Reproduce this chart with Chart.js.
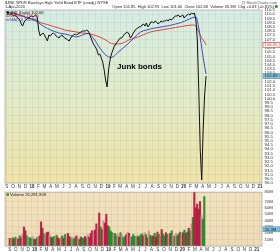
<!DOCTYPE html>
<html>
<head>
<meta charset="utf-8">
<script src="https://cdn.jsdelivr.net/npm/chart.js@4"></script>
<style>
  body { margin: 0; width: 280px; height: 252px; background: #fff; overflow: hidden; position: relative; }
  canvas { position: absolute; left: 0; }
  #price { top: 0; }
  #vol { top: 188px; }
</style>
</head>
<body>
<canvas id="price" width="280" height="188"></canvas>
<canvas id="vol" width="280" height="64"></canvas>
<script>
// weekly closes from 1-Sep-2017 (one value per week)
const close = [
  109.91, 110.03, 109.91, 110.03, 109.91, 109.79, 109.91, 109.67, 109.55, 109.32,
  108.84, 108.60, 109.08, 109.32, 109.43,
  109.55, 109.67, 109.79, 109.67, 109.79, 109.91, 109.67,
  108.13, 107.42, 107.66, 107.77, 107.54,
  107.18, 106.83, 107.54, 107.42,
  107.66, 107.77, 107.66, 107.42, 107.30,
  107.18, 107.42, 107.54, 107.30, 107.18, 107.06, 106.95, 106.83, 107.18,
  107.42, 107.54, 107.66, 107.54, 107.66, 107.77, 107.89, 108.01,
  108.01, 108.01, 108.13, 108.01,
  107.66, 107.18, 106.71, 106.35,
  106.12, 105.76, 105.17, 105.29,
  104.81, 104.34, 103.39, 102.21, 101.38,
  103.39, 104.58, 105.29, 105.76, 106.23,
  106.47, 106.71, 106.95, 107.18, 107.18, 107.42,
  107.66, 107.77, 107.89, 107.66, 107.18, 107.42,
  107.77, 108.01, 108.25, 108.37, 108.49, 108.49,
  108.72, 108.84, 108.60, 108.96, 108.49, 108.72, 109.08, 109.08,
  108.96, 109.20, 109.08, 108.84, 108.96, 109.20, 109.08, 109.20,
  109.20, 109.32, 109.20, 109.43, 109.32, 109.43, 109.67, 109.79,
  109.79, 109.91, 109.67, 109.79, 109.91, 109.55, 109.79, 109.91,
  110.03, 109.91, 110.14, 110.03, 110.14,
  109.32, 106.95, 101.02, 93.91, 90.36, 96.28, 100.43, 102.68
];

// volume in millions, same weeks
const volume = [
  12, 10, 13, 11, 14, 12, 11, 16, 13, 18,
  30, 24, 16, 14, 13,
  12, 15, 11, 10, 13, 14, 16,
  38, 28, 19, 16, 21,
  22, 18, 14, 13,
  15, 12, 17, 13, 11,
  14, 16, 12, 18, 13, 20, 15, 12, 14,
  11, 13, 16, 12, 10, 14, 13, 12,
  15, 13, 18, 14,
  20, 24, 21, 25,
  35, 28, 52, 30,
  26, 40, 36, 50, 32,
  30, 24, 21, 18, 20,
  16, 19, 14, 21, 17, 13,
  15, 18, 22, 20, 16, 14,
  18, 15, 13, 16, 14, 17,
  19, 16, 21, 18, 13, 24, 17, 15,
  16, 20, 14, 22, 18, 15, 26, 19,
  16, 21, 18, 14, 20, 24, 17, 15,
  20, 16, 19, 22, 18, 21, 25, 20,
  22, 28, 24, 35, 45,
  85, 60, 66, 58, 70, 48, 42, 78
];

// bar colour of each week: u = up, d = down, p = light (pink) bar
const volColor = "dpudupdudp" + "ddupu" + "upudupd" + "ddupd" + "dpud" + "upudd" +
  "pudupddup" + "uudpuduu" + "dupd" + "ddpd" + "dpdu" + "dpddd" + "uuupu" + "updupu" +
  "udpdpu" + "uupudu" + "udpudpuu" + "duddupdu" + "udupdupu" + "pudupdud" + "udupu" + "dddddpuu";

// moving averages read at these week numbers
const maWeeks = [0, 4, 8, 12, 16, 20, 24, 28, 32, 36, 40, 44, 48, 52, 56, 60, 64, 68, 72, 76,
  80, 84, 88, 92, 96, 100, 104, 108, 112, 116, 120, 124, 128, 130, 132, 134, 136, 137];
const ma200 = [110.23, 110.09, 109.91, 109.67, 109.49, 109.32, 108.96, 108.78, 108.54, 108.37,
  108.13, 108.01, 107.89, 107.77, 107.72, 107.54, 107.30, 106.95, 106.53, 106.47,
  106.59, 106.95, 107.18, 107.42, 107.72, 107.95, 108.07, 108.19, 108.31, 108.43,
  108.54, 108.66, 108.72, 108.60, 107.89, 107.18, 106.71, 106.35];
const ma50 = [110.20, 110.14, 109.97, 109.73, 109.49, 109.20, 108.72, 108.31, 108.01, 107.77,
  107.66, 107.48, 107.30, 107.54, 107.72, 107.06, 106.00, 105.17, 104.87, 105.41,
  106.00, 106.59, 107.30, 107.89, 108.13, 108.31, 108.43, 108.54, 108.66, 108.84,
  109.02, 109.32, 109.61, 109.67, 108.37, 106.00, 103.87, 102.92];

const monthLabels = ["S","O","N","D","18","F","M","A","M","J","J","A","S","O","N","D",
  "19","F","M","A","M","J","J","A","S","O","N","D",
  "20","F","M","A","M","J","J","A","S","O","N","D","21"];

const ohlc = [101.85, 102.95, 101.60, 102.68];
const lastVolume = 26281909;

const Config = {
  font: '"Liberation Sans", Arial, sans-serif',
  text: "#333",
  grid: "rgba(120,120,100,0.18)",
  price: "#111",
  ma50: "#2b3fb8",
  ma200: "#e0302c",
  bars: { u: "rgba(25,135,40,0.9)", d: "rgba(180,20,60,0.9)", p: "rgba(214,125,135,0.8)" },
};
Chart.defaults.font.family = Config.font;
Chart.defaults.color = Config.text;

const start = Date.UTC(2017, 8, 1);
const monthDays = monthLabels.map((_, k) => (Date.UTC(2017, 8 + k, 1) - start) / 864e5);
const weekDay = (i) => i * 7;

const xAxis = (labelHeight) => ({
  type: "linear",
  min: -8,
  max: 1228,
  afterBuildTicks: (axis) => { axis.ticks = monthDays.map((v) => ({ value: v })); },
  afterFit: (axis) => { axis.height = labelHeight; },
  grid: { color: Config.grid, lineWidth: 0.6, tickLength: 1, drawTicks: true },
  border: { display: false },
  ticks: {
    autoSkip: false,
    maxRotation: 0,
    padding: 0,
    font: (c) => ({ size: 4.5, weight: monthLabels[c.index] && monthLabels[c.index].length > 1 ? "bold" : "normal" }),
    callback: (v, i) => monthLabels[i],
  },
});

const panelBg = (colors) => ({
  id: "panelBg",
  beforeDraw(chart) {
    const { ctx, chartArea: a } = chart;
    ctx.save();
    ctx.fillStyle = "#fff";
    ctx.fillRect(0, 0, chart.width, chart.height);
    const g = ctx.createLinearGradient(0, a.top, 0, a.bottom);
    colors.forEach((c, k) => g.addColorStop(k / (colors.length - 1), c));
    ctx.fillStyle = g;
    ctx.fillRect(a.left, a.top, a.right - a.left, a.bottom - a.top);
    ctx.restore();
  },
  afterDraw(chart) {
    const { ctx, chartArea: a } = chart;
    ctx.save();
    ctx.strokeStyle = "#9a9a9a";
    ctx.lineWidth = 0.6;
    ctx.strokeRect(a.left, a.top, a.right - a.left, a.bottom - a.top);
    ctx.restore();
  },
});

const valueBox = (chart, value, text, fill, stroke, color) => {
  const { ctx, chartArea: a } = chart;
  const y = chart.scales.y.getPixelForValue(value);
  ctx.fillStyle = fill;
  ctx.fillRect(a.right + 1, y - 2.5, 17, 5);
  ctx.strokeStyle = stroke;
  ctx.lineWidth = 0.6;
  ctx.strokeRect(a.right + 1, y - 2.5, 17, 5);
  ctx.fillStyle = color;
  ctx.font = "4.3px " + Config.font;
  ctx.textBaseline = "middle";
  ctx.textAlign = "left";
  ctx.fillText(text, a.right + 2.5, y + 0.2);
};

const priceText = {
  id: "priceText",
  afterDraw(chart) {
    const { ctx, chartArea: a } = chart;
    const last = close[close.length - 1];
    ctx.save();
    ctx.textBaseline = "middle";
    ctx.font = "4px " + Config.font;
    ctx.fillStyle = "#222";
    ctx.fillText("$JNK SPDR Barclays High Yield Bond ETF (unadj.) NYSE", 5, 2.6);
    ctx.fillText("1-Apr-2020", 5, 6.6);
    ctx.textAlign = "right";
    ctx.fillStyle = "#555";
    ctx.fillText("@ StockCharts.com", 277, 2.6);
    ctx.fillStyle = "#222";
    ctx.fillText(`Open ${ohlc[0].toFixed(2)}  High ${ohlc[1].toFixed(2)}  Low ${ohlc[2].toFixed(2)}  Close ${ohlc[3].toFixed(2)}  Volume 26.3M  Chg +0.83 (+0.81%)`, 274, 6.6);
    ctx.fillStyle = "#1a8a1a";
    ctx.fillRect(275, 5.2, 2.6, 2.6);

    // legend
    ctx.textAlign = "left";
    ctx.fillStyle = Config.price;
    ctx.fillRect(a.left + 1.5, a.top + 1.2, 2.4, 2.4);
    ctx.fillText(`JNK (Daily) ${last.toFixed(2)}`, a.left + 5, a.top + 2.5);
    ctx.fillStyle = Config.ma200;
    ctx.fillRect(a.left + 1, a.top + 5.8, 3.5, 0.8);
    ctx.fillText(`MA(200) ${ma200[ma200.length - 1].toFixed(2)}`, a.left + 5, a.top + 6.2);
    ctx.fillStyle = Config.ma50;
    ctx.fillRect(a.left + 1, a.top + 9.5, 3.5, 0.8);
    ctx.fillText(`MA(50) ${ma50[ma50.length - 1].toFixed(2)}`, a.left + 5, a.top + 9.9);

    // annotation
    ctx.fillStyle = "#000";
    ctx.font = "bold 8px " + Config.font;
    ctx.fillText("Junk bonds", chart.scales.x.getPixelForValue(531), chart.scales.y.getPixelForValue(103.75));

    valueBox(chart, ma200[ma200.length - 1], ma200[ma200.length - 1].toFixed(2), "#fff", Config.ma200, Config.ma200);
    valueBox(chart, last, last.toFixed(2), "#86c0d6", "#4b8fb0", "#123");
    ctx.restore();
  },
};

const volText = {
  id: "volText",
  afterDraw(chart) {
    const { ctx, chartArea: a } = chart;
    ctx.save();
    ctx.textBaseline = "middle";
    ctx.font = "4.2px " + Config.font;
    ctx.fillStyle = "#1a8a1a";
    ctx.fillRect(a.left + 1.5, a.top + 1.3, 2.4, 2.4);
    ctx.fillStyle = "#222";
    ctx.fillText(`Volume ${lastVolume.toLocaleString("en-US")}`, a.left + 5, a.top + 2.6);
    valueBox(chart, lastVolume / 1e6, (lastVolume / 1e6).toFixed(1) + "M", "#86c0d6", "#4b8fb0", "#123");
    ctx.restore();
  },
};

new Chart(document.getElementById("price"), {
  type: "line",
  data: {
    datasets: [
      {
        data: close.map((v, i) => ({ x: weekDay(i), y: v })),
        borderColor: Config.price,
        borderWidth: 1,
        pointRadius: 0,
        tension: 0,
      },
      {
        data: ma50.map((v, k) => ({ x: weekDay(maWeeks[k]), y: v })),
        borderColor: Config.ma50,
        borderWidth: 0.9,
        pointRadius: 0,
        cubicInterpolationMode: "monotone",
      },
      {
        data: ma200.map((v, k) => ({ x: weekDay(maWeeks[k]), y: v })),
        borderColor: Config.ma200,
        borderWidth: 0.9,
        pointRadius: 0,
        cubicInterpolationMode: "monotone",
      },
    ],
  },
  options: {
    responsive: false,
    animation: false,
    devicePixelRatio: 1,
    layout: { padding: { left: 5, top: 10, right: 0, bottom: 0 } },
    plugins: { legend: { display: false }, tooltip: { enabled: false } },
    scales: {
      x: xAxis(5),
      y: {
        position: "right",
        min: 90,
        max: 110.5,
        afterFit: (axis) => { axis.width = 18; },
        grid: {
          color: (c) => (Number.isInteger(c.tick.value) ? Config.grid : "transparent"),
          lineWidth: 0.6,
          tickLength: 1,
        },
        border: { display: false },
        ticks: {
          stepSize: 0.5,
          autoSkip: false,
          padding: 1.5,
          font: { size: 4.3 },
          callback: (v) => v.toFixed(1),
        },
      },
    },
  },
  plugins: [panelBg(["#d6ede6", "#e2ebc9", "#efe3a8"]), priceText],
});

new Chart(document.getElementById("vol"), {
  type: "bar",
  data: {
    datasets: [
      {
        data: volume.map((v, i) => ({ x: weekDay(i), y: v })),
        backgroundColor: volume.map((v, i) => Config.bars[volColor[i]]),
        barThickness: 1.5,
      },
    ],
  },
  options: {
    responsive: false,
    animation: false,
    devicePixelRatio: 1,
    layout: { padding: { left: 5, top: 1, right: 0, bottom: 0 } },
    plugins: { legend: { display: false }, tooltip: { enabled: false } },
    scales: {
      x: xAxis(6),
      y: {
        position: "right",
        min: 0,
        max: 85,
        afterFit: (axis) => { axis.width = 18; },
        grid: { color: Config.grid, lineWidth: 0.6, tickLength: 1 },
        border: { display: false },
        ticks: {
          stepSize: 10,
          autoSkip: false,
          padding: 1.5,
          font: { size: 4.3 },
          callback: (v) => (v ? v + "M" : ""),
        },
      },
    },
  },
  plugins: [panelBg(["#f1e2bd", "#efdcb6"]), volText],
});
</script>
</body>
</html>
